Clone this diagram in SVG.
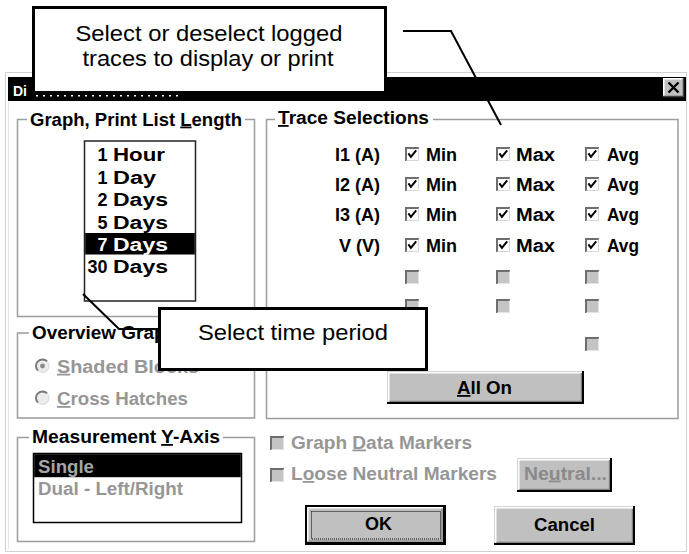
<svg xmlns="http://www.w3.org/2000/svg" width="689" height="554" viewBox="0 0 689 554">
<style>
.ui{font-family:"Liberation Sans",Arial,Helvetica,sans-serif;font-weight:bold;font-size:18px;fill:#000}
.dim{fill:#969696}
.inv{fill:#fff}
.u{text-decoration:underline}
.frame{fill:none;stroke:#9c9c9c;stroke-width:1.5}
.list{fill:#fff;stroke:#222;stroke-width:1.5}
.note{font-family:"Liberation Sans",Arial,Helvetica,sans-serif;font-size:22px;fill:#000;text-anchor:middle}
.callout{fill:#fff;stroke:#000;stroke-width:3}
.lead{fill:none;stroke:#000;stroke-width:2}
.face{fill:#c0c0c0}
.edge{fill:none;stroke:#d4d4d4;stroke-width:1}
.hi{fill:none;stroke:#fff;stroke-width:1.5}
.sh{fill:none;stroke:#000;stroke-width:2}
.sh2{fill:none;stroke:#808080;stroke-width:1.2}
</style>
<defs>
  <!-- checked check box, 14x14 -->
  <g id="cb-on">
    <rect width="14" height="14" fill="#fff"/>
    <path d="M1,14 V1 H14" fill="none" stroke="#6e6e6e" stroke-width="2"/>
    <path d="M1.5,13.5 H13.5 V1.5" fill="none" stroke="#d6d6d6" stroke-width="1"/>
    <path d="M3.4,6.4 L5.9,9.8 L11.2,3.4" fill="none" stroke="#000" stroke-width="2"/>
  </g>
  <!-- greyed, unchecked check box -->
  <g id="cb-off">
    <rect width="14" height="14" fill="#c4c4c4"/>
    <path d="M1,14 V1 H14" fill="none" stroke="#6e6e6e" stroke-width="2"/>
    <path d="M1.5,13.5 H13.5 V1.5" fill="none" stroke="#e4e4e4" stroke-width="1"/>
  </g>
  <!-- greyed radio button -->
  <g id="radio">
    <circle r="6.5" fill="#ececec"/>
    <path d="M4.6,-4.6 A6.5,6.5 0 0 0 -4.6,4.6" fill="none" stroke="#7a7a7a" stroke-width="2"/>
    <path d="M4.6,-4.6 A6.5,6.5 0 0 1 -4.6,4.6" fill="none" stroke="#d8d8d8" stroke-width="1"/>
  </g>
</defs>

<rect width="689" height="554" fill="#fff"/>

<!-- dialog window -->
<g id="dialog">
  <rect x="5.5" y="72.5" width="681" height="479" fill="#fff" stroke="#d0d0d0" stroke-width="1"/>
  <path d="M8.5,549 V75.5" stroke="#e6e6e6" stroke-width="1" fill="none"/>
</g>

<g id="title-bar">
  <rect x="8" y="77" width="678" height="24" fill="#000"/>
  <text class="ui inv" x="13" y="95.5" style="font-size:14px">Di</text>
  <line x1="36" y1="95.8" x2="178" y2="95.8" stroke="#fff" stroke-width="1.4" stroke-dasharray="2 5"/>
  <g id="btn-close">
    <rect x="663" y="78" width="21" height="19" class="face"/>
    <path class="hi" d="M663.75,96 V78.75 H683"/>
    <path d="M663,96.5 H683.5 V78" fill="none" stroke="#404040" stroke-width="1.5"/>
    <path d="M668.5,82.5 L678.5,92.5 M678.5,82.5 L668.5,92.5" stroke="#000" stroke-width="2.4" fill="none"/>
  </g>
</g>

<!-- Graph, Print List Length -->
<g id="grp-list-length">
  <path class="frame" d="M27,119.5 H17.5 V316.5 H254.5 V119.5 H245"/>
  <text class="ui" x="30" y="125.5" textLength="212" lengthAdjust="spacingAndGlyphs">Graph, Print List <tspan class="u">L</tspan>ength</text>
  <rect class="list" x="84.5" y="141" width="111" height="160"/>
  <rect x="85.2" y="233" width="109.6" height="21.5" fill="#000"/>
  <g class="ui">
    <text x="107.5" y="161" text-anchor="end">1</text>
    <text x="113" y="161" textLength="52" lengthAdjust="spacingAndGlyphs">Hour</text>
    <text x="107.5" y="183.5" text-anchor="end">1</text>
    <text x="113" y="183.5" textLength="43" lengthAdjust="spacingAndGlyphs">Day</text>
    <text x="107.5" y="206" text-anchor="end">2</text>
    <text x="113" y="206" textLength="55" lengthAdjust="spacingAndGlyphs">Days</text>
    <text x="107.5" y="228.5" text-anchor="end">5</text>
    <text x="113" y="228.5" textLength="55" lengthAdjust="spacingAndGlyphs">Days</text>
    <text class="inv" x="107.5" y="250.5" text-anchor="end">7</text>
    <text class="inv" x="113" y="250.5" textLength="55" lengthAdjust="spacingAndGlyphs">Days</text>
    <text x="107.5" y="273" text-anchor="end">30</text>
    <text x="113" y="273" textLength="55" lengthAdjust="spacingAndGlyphs">Days</text>
  </g>
</g>

<!-- Overview Graph -->
<g id="grp-overview">
  <path class="frame" d="M29,333 H17.5 V418 H254.5 V333 H200"/>
  <text class="ui" x="32" y="339" textLength="145" lengthAdjust="spacingAndGlyphs">Overview Graph</text>
  <use href="#radio" x="42.5" y="366"/>
  <circle cx="42.5" cy="366" r="2.4" fill="#8a8a8a"/>
  <text class="ui dim" x="57" y="372.7" textLength="142" lengthAdjust="spacingAndGlyphs"><tspan class="u">S</tspan>haded Blocks</text>
  <use href="#radio" x="42.5" y="398"/>
  <text class="ui dim" x="57" y="405" textLength="131" lengthAdjust="spacingAndGlyphs"><tspan class="u">C</tspan>ross Hatches</text>
</g>

<!-- Measurement Y-Axis -->
<g id="grp-yaxis">
  <path class="frame" d="M29,437.5 H17.5 V541.5 H254.5 V437.5 H223"/>
  <text class="ui" x="32" y="443" textLength="188" lengthAdjust="spacingAndGlyphs">Measurement <tspan class="u">Y</tspan>-Axis</text>
  <rect x="33.5" y="453.5" width="208" height="69" fill="#fff" stroke="#000" stroke-width="1.5"/>
  <rect x="34.2" y="454.2" width="206.6" height="23" fill="#000"/>
  <text class="ui" x="38" y="473" textLength="56" lengthAdjust="spacingAndGlyphs" style="fill:#a6a6a6">Single</text>
  <text class="ui dim" x="38" y="495" textLength="145" lengthAdjust="spacingAndGlyphs">Dual - Left/Right</text>
</g>

<!-- Trace Selections -->
<g id="grp-trace">
  <path class="frame" d="M275,119.5 H266.5 V418.5 H678 V119.5 H433"/>
  <text class="ui" x="278" y="124" textLength="151" lengthAdjust="spacingAndGlyphs"><tspan class="u">T</tspan>race Selections</text>
  <g class="ui" text-anchor="end">
    <text x="380" y="160.7">I1 (A)</text>
    <text x="380" y="190.7">I2 (A)</text>
    <text x="380" y="220.7">I3 (A)</text>
    <text x="380" y="251.7">V (V)</text>
  </g>
  <g id="col-min">
    <use href="#cb-on" x="405" y="147"/>
    <use href="#cb-on" x="405" y="177"/>
    <use href="#cb-on" x="405" y="207"/>
    <use href="#cb-on" x="405" y="238"/>
    <use href="#cb-off" x="405" y="270"/>
    <use href="#cb-off" x="405" y="299"/>
    <g class="ui">
      <text x="426" y="160.7" textLength="31" lengthAdjust="spacingAndGlyphs">Min</text>
      <text x="426" y="190.7" textLength="31" lengthAdjust="spacingAndGlyphs">Min</text>
      <text x="426" y="220.7" textLength="31" lengthAdjust="spacingAndGlyphs">Min</text>
      <text x="426" y="251.7" textLength="31" lengthAdjust="spacingAndGlyphs">Min</text>
    </g>
  </g>
  <g id="col-max">
    <use href="#cb-on" x="496" y="147"/>
    <use href="#cb-on" x="496" y="177"/>
    <use href="#cb-on" x="496" y="207"/>
    <use href="#cb-on" x="496" y="238"/>
    <use href="#cb-off" x="496" y="270"/>
    <use href="#cb-off" x="496" y="299"/>
    <g class="ui">
      <text x="516" y="160.7" textLength="39" lengthAdjust="spacingAndGlyphs">Max</text>
      <text x="516" y="190.7" textLength="39" lengthAdjust="spacingAndGlyphs">Max</text>
      <text x="516" y="220.7" textLength="39" lengthAdjust="spacingAndGlyphs">Max</text>
      <text x="516" y="251.7" textLength="39" lengthAdjust="spacingAndGlyphs">Max</text>
    </g>
  </g>
  <g id="col-avg">
    <use href="#cb-on" x="585" y="147"/>
    <use href="#cb-on" x="585" y="177"/>
    <use href="#cb-on" x="585" y="207"/>
    <use href="#cb-on" x="585" y="238"/>
    <use href="#cb-off" x="585" y="270"/>
    <use href="#cb-off" x="585" y="299"/>
    <use href="#cb-off" x="585" y="337"/>
    <g class="ui">
      <text x="607" y="160.7" textLength="32" lengthAdjust="spacingAndGlyphs">Avg</text>
      <text x="607" y="190.7" textLength="32" lengthAdjust="spacingAndGlyphs">Avg</text>
      <text x="607" y="220.7" textLength="32" lengthAdjust="spacingAndGlyphs">Avg</text>
      <text x="607" y="251.7" textLength="32" lengthAdjust="spacingAndGlyphs">Avg</text>
    </g>
  </g>
  <g id="btn-all-on">
    <rect x="387" y="371" width="197" height="33" class="face"/>
    <path class="edge" d="M387.5,403 V371.5 H583"/>
    <path class="hi" d="M388.75,401.5 V372.75 H582"/>
    <path class="sh2" d="M389.5,401.4 H581.4 V373"/>
    <path class="sh" d="M387,403 H583 V371"/>
    <text class="ui" x="457" y="394" textLength="55" lengthAdjust="spacingAndGlyphs"><tspan class="u">A</tspan>ll On</text>
  </g>
</g>

<!-- marker options -->
<g id="opt-data-markers">
  <use href="#cb-off" x="270" y="436"/>
  <text class="ui dim" x="291" y="448.5" textLength="181" lengthAdjust="spacingAndGlyphs">Graph <tspan class="u">D</tspan>ata Markers</text>
</g>
<g id="opt-neutral-markers">
  <use href="#cb-off" x="270" y="468"/>
  <text class="ui dim" x="291" y="480" textLength="206" lengthAdjust="spacingAndGlyphs">L<tspan class="u">o</tspan>ose Neutral Markers</text>
</g>
<g id="btn-neutral">
  <rect x="517" y="458" width="95" height="34" class="face"/>
  <path class="edge" d="M517.5,491 V458.5 H611"/>
  <path class="hi" d="M518.75,489.5 V459.75 H610"/>
  <path class="sh2" d="M519.5,489.4 H609.4 V460"/>
  <path class="sh" d="M517,491 H611 V458"/>
  <text class="ui" x="524" y="479.5" textLength="83" lengthAdjust="spacingAndGlyphs" style="fill:#8a8a8a">Ne<tspan class="u">u</tspan>tral...</text>
</g>

<g id="btn-ok">
  <rect x="306" y="506" width="139" height="38" class="face" stroke="#000" stroke-width="2"/>
  <path class="hi" d="M307.75,541 V507.75 H443"/>
  <path class="sh" d="M306,543 H444 V506"/>
  <path class="sh2" d="M308.5,541 H442 V508.5"/>
  <rect x="311.5" y="511.5" width="129" height="27.5" fill="none" stroke="#000" stroke-width="1" stroke-dasharray="1 1"/>
  <text class="ui" x="378.5" y="530" text-anchor="middle">OK</text>
</g>

<g id="btn-cancel">
  <rect x="494" y="506" width="141" height="39" class="face"/>
  <path class="edge" d="M494.5,544 V506.5 H634"/>
  <path class="hi" d="M495.75,542.5 V507.75 H633"/>
  <path class="sh2" d="M496.5,542.4 H632.4 V509"/>
  <path class="sh" d="M494,544 H634 V506"/>
  <text class="ui" x="534" y="530.5" textLength="61" lengthAdjust="spacingAndGlyphs">Cancel</text>
</g>

<!-- callout leader lines -->
<g id="leaders">
  <polyline class="lead" points="403,31 451,31 501,125"/>
  <polyline class="lead" points="83,294 119,329 158,329"/>
</g>

<!-- callout notes -->
<g id="note-traces">
  <rect class="callout" x="33.5" y="7.5" width="352" height="85"/>
  <text class="note" x="209" y="40.5" textLength="267" lengthAdjust="spacingAndGlyphs">Select or deselect logged</text>
  <text class="note" x="208" y="65.5" textLength="251" lengthAdjust="spacingAndGlyphs">traces to display or print</text>
</g>
<g id="note-period">
  <rect class="callout" x="159.5" y="308.5" width="267" height="61"/>
  <text class="note" x="293" y="340" textLength="190" lengthAdjust="spacingAndGlyphs">Select time period</text>
</g>
</svg>
